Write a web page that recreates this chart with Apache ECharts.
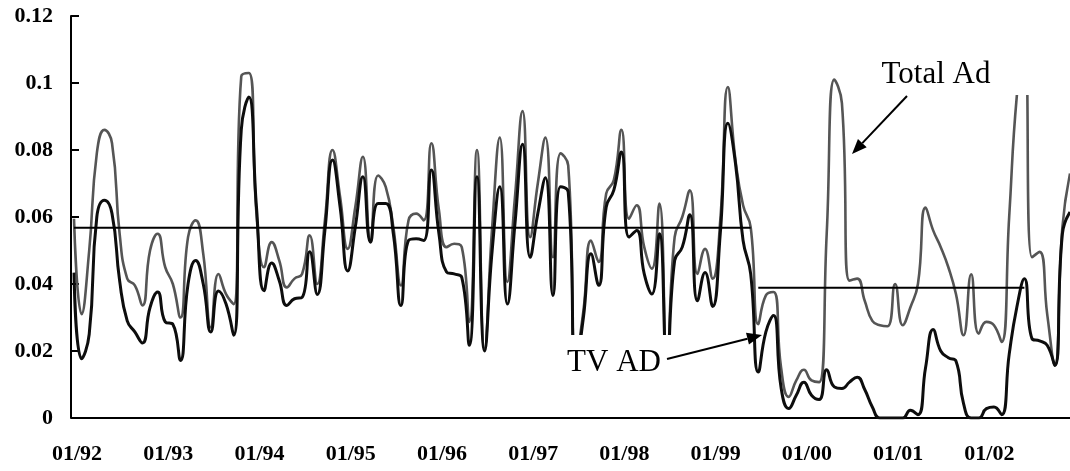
<!DOCTYPE html>
<html><head><meta charset="utf-8">
<script src="https://cdn.jsdelivr.net/npm/echarts@6/dist/echarts.min.js"></script>
<style>html,body{margin:0;padding:0;background:#fff;}#c{width:1070px;height:471px;}</style>
</head><body><div id="c"></div>
<script>
// ---- data ----
const startYear = 1992;
const monthCount = 132; // 01/92 .. 12/02
const categories = [];
for (let i = 0; i < monthCount; i++) {
  const y = startYear + Math.floor(i / 12);
  const m = (i % 12) + 1;
  categories.push(String(m).padStart(2, '0') + '/' + String(y % 100).padStart(2, '0'));
}
const totalAd = [
  0.0595,0.031,0.050,0.079,0.086,0.082,0.055,0.0416,0.0396,0.0336,0.050,0.055,
  0.045,0.040,0.030,0.054,0.059,0.049,0.027,0.043,0.037,0.034,0.102,0.103,
  0.061,0.045,0.0525,0.047,0.039,0.0416,0.043,0.0545,0.040,0.059,0.080,0.066,
  0.0505,0.063,0.078,0.053,0.0724,0.069,0.057,0.0396,0.059,0.061,0.059,0.082,
  0.062,0.051,0.052,0.051,0.0287,0.080,0.0207,0.057,0.0837,0.0406,0.066,0.0916,
  0.054,0.070,0.0837,0.048,0.079,0.0754,0.018,0.032,0.053,0.0466,0.067,0.071,
  0.086,0.0595,0.0635,0.051,0.0446,0.064,0.018,0.054,0.060,0.068,0.043,0.0505,
  0.0416,0.059,0.0988,0.077,0.0635,0.057,0.028,0.0366,0.0376,0.015,0.0063,0.0112,
  0.0144,0.0112,0.0107,0.055,0.101,0.094,0.041,0.0416,0.035,0.029,0.0277,0.0274,
  0.040,0.0277,0.033,0.040,0.0628,0.056,0.051,0.045,0.037,0.0247,0.0429,0.0252,
  0.0287,0.0277,0.0227,0.060,0.096,0.112,0.048,0.0496,0.031,0.0157,0.057,0.073
];
const tvAd = [
  0.0434,0.0177,0.025,0.060,0.065,0.061,0.041,0.029,0.0257,0.0224,0.033,0.0376,
  0.0287,0.028,0.0172,0.040,0.047,0.040,0.0257,0.0379,0.034,0.0247,0.086,0.0958,
  0.063,0.038,0.0463,0.041,0.0336,0.0356,0.036,0.0496,0.0369,0.056,0.077,0.063,
  0.0439,0.057,0.072,0.0525,0.064,0.064,0.055,0.0336,0.053,0.0535,0.053,0.074,
  0.055,0.0436,0.043,0.042,0.0217,0.072,0.020,0.050,0.069,0.034,0.058,0.0817,
  0.048,0.061,0.0717,0.0366,0.069,0.0675,0.015,0.030,0.049,0.0396,0.063,0.068,
  0.0794,0.054,0.056,0.043,0.037,0.055,0.016,0.047,0.051,0.0607,0.035,0.0434,
  0.0333,0.055,0.088,0.076,0.053,0.043,0.0137,0.0257,0.0306,0.009,0.0028,0.0068,
  0.0107,0.0068,0.0055,0.0144,0.0093,0.0088,0.0107,0.0122,0.0085,0.0033,0,0,
  0,0,0.0023,0.001,0.015,0.0264,0.020,0.018,0.017,0.0043,0,0,
  0.0028,0.0033,0.001,0.019,0.033,0.0416,0.0237,0.023,0.0217,0.0157,0.055,0.0615
];
const meanValues = [0.0568, 0.0389];
const meanStart = [0, 90];
const meanEnd = [89, 125];
const yTicks = { min: 0, max: 0.12, interval: 0.02 };

// ---- build ----
const FONT = "'Liberation Serif','Times New Roman',serif";
const meanSeries = meanValues.map((v, k) => ({
  type: 'line', silent: true, symbol: 'none', smooth: false, z: 4,
  lineStyle: { color: '#000', width: 2 },
  data: categories.map((c, i) => (i >= meanStart[k] && i <= meanEnd[k]) ? v : null)
}));

function arrow(x1, y1, x2, y2) {
  const dx = x2 - x1, dy = y2 - y1, L = Math.hypot(dx, dy);
  const ux = dx / L, uy = dy / L, hl = 15, hw = 6;
  const bx = x2 - ux * hl, by = y2 - uy * hl;
  return [
    { type: 'line', z: 101, shape: { x1, y1, x2: bx, y2: by }, style: { stroke: '#000', lineWidth: 2 } },
    { type: 'polygon', z: 101, shape: { points: [[x2, y2], [bx - uy * hw, by + ux * hw], [bx + uy * hw, by - ux * hw]] }, style: { fill: '#000' } }
  ];
}

const chart = echarts.init(document.getElementById('c'), null, { renderer: 'canvas' });
chart.setOption({
  animation: false,
  backgroundColor: '#fff',
  grid: { left: 74, right: 0, top: 16, bottom: 53 },
  xAxis: {
    type: 'category', data: categories, boundaryGap: false,
    axisLine: { lineStyle: { color: '#000', width: 2 } },
    axisTick: { show: false },
    axisLabel: {
      interval: (i) => i % 12 === 0,
      margin: 25, color: '#000', fontFamily: FONT, fontWeight: 'bold', fontSize: 22,
      padding: [0, 0, 0, 6]
    },
    splitLine: { show: false }
  },
  yAxis: {
    type: 'value', min: yTicks.min, max: yTicks.max, interval: yTicks.interval, offset: 3,
    axisLine: { show: true, lineStyle: { color: '#000', width: 2 } },
    axisTick: { show: true, inside: true, length: 8, lineStyle: { color: '#000', width: 2 } },
    axisLabel: { margin: 18, color: '#000', fontFamily: FONT, fontWeight: 'bold', fontSize: 22 },
    splitLine: { show: false }
  },
  series: [
    { name: 'Total Ad', type: 'line', data: totalAd, symbol: 'none', smooth: 0.5, z: 2,
      lineStyle: { color: '#555', width: 2.6 } },
    { name: 'TV AD', type: 'line', data: tvAd, symbol: 'none', smooth: 0.5, z: 3,
      lineStyle: { color: '#0d0d0d', width: 3 } },
    ...meanSeries
  ],
  graphic: [
    { type: 'rect', z: 100, shape: { x: 872, y: 28, width: 160, height: 67 }, style: { fill: '#fff' } },
    { type: 'text', z: 101, x: 936, y: 75, style: { text: 'Total Ad', font: "31px " + FONT, fill: '#000', textAlign: 'center', textVerticalAlign: 'middle' } },
    { type: 'rect', z: 100, shape: { x: 566, y: 335, width: 106, height: 48 }, style: { fill: '#fff' } },
    { type: 'text', z: 101, x: 614, y: 363, style: { text: 'TV AD', font: "31px " + FONT, fill: '#000', textAlign: 'center', textVerticalAlign: 'middle' } },
    ...arrow(907, 96, 852, 154),
    ...arrow(667, 359, 762, 335)
  ]
});
</script></body></html>
